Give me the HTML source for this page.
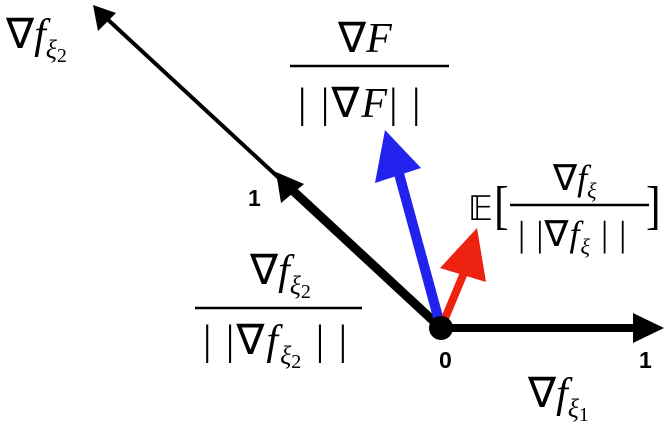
<!DOCTYPE html>
<html><head><style>body{margin:0;background:#fff}svg{display:block}
.s{font-family:"Liberation Serif",serif}
.b{font-family:"Liberation Sans",sans-serif;font-weight:bold;font-size:23px}
</style></head><body>
<svg width="665" height="435" viewBox="0 0 665 435" xmlns="http://www.w3.org/2000/svg">
<line x1="441" y1="328" x2="636" y2="328" stroke="#000" stroke-width="8"/>
<polygon points="664,328 633,313 633,343" fill="#000"/>
<line x1="441" y1="328" x2="104" y2="16" stroke="#000" stroke-width="4"/>
<polygon points="93,5 98,31 116,13" fill="#000"/>
<line x1="441" y1="328" x2="290" y2="188" stroke="#000" stroke-width="9"/>
<polygon points="276,172 281,203 304,184" fill="#000"/>
<line x1="441" y1="328" x2="398" y2="170" stroke="#2222ee" stroke-width="10"/>
<polygon points="385,130 375,183 421,168" fill="#2222ee"/>
<line x1="441" y1="328" x2="466" y2="268" stroke="#ee2211" stroke-width="8"/>
<polygon points="477,228 440,268 486,282" fill="#ee2211"/>
<circle cx="441" cy="328" r="12" fill="#000"/>
<text class="b" x="248" y="206">1</text><text class="b" x="439" y="368">0</text><text class="b" x="639" y="368">1</text>
<g class="s" style="font-size:42px">
<text x="6" y="48">∇<tspan font-style="italic">f</tspan><tspan font-style="italic" font-size="26" dy="10">ξ</tspan><tspan font-size="20" dy="4">2</tspan></text>
<text x="338" y="52">∇<tspan font-style="italic">F</tspan></text>
<line x1="290" y1="66" x2="449" y2="66" stroke="#000" stroke-width="2.5"/>
<text x="298" y="117" letter-spacing="2">| |∇<tspan font-style="italic">F</tspan>| |</text>
<text x="250" y="284">∇<tspan font-style="italic">f</tspan><tspan font-style="italic" font-size="26" dy="10">ξ</tspan><tspan font-size="20" dy="4">2</tspan></text>
<line x1="195" y1="308" x2="362" y2="308" stroke="#000" stroke-width="2.5"/>
<text x="203" y="354" letter-spacing="2">| |∇<tspan font-style="italic">f</tspan><tspan font-style="italic" font-size="26" dy="10" letter-spacing="0">ξ</tspan><tspan font-size="20" dy="4">2</tspan><tspan dy="-14"> | |</tspan></text>
<text x="528" y="407">∇<tspan font-style="italic">f</tspan><tspan font-style="italic" font-size="26" dy="10">ξ</tspan><tspan font-size="20" dy="4">1</tspan></text>
<text x="468" y="220" font-size="34">𝔼</text>
<text x="494" y="226" font-size="44" transform="scale(1,1.2) translate(0,-40)">[</text>
<text x="553" y="190" font-size="36">∇<tspan font-style="italic">f</tspan><tspan font-style="italic" font-size="22" dy="8">ξ</tspan></text>
<line x1="510" y1="205" x2="649" y2="205" stroke="#000" stroke-width="2.5"/>
<text x="518" y="246" font-size="36" letter-spacing="1">| |∇<tspan font-style="italic">f</tspan><tspan font-style="italic" font-size="22" dy="8">ξ</tspan><tspan dy="-8"> | |</tspan></text>
<text x="646" y="226" font-size="44" transform="scale(1,1.2) translate(0,-40)">]</text>
</g>
</svg>
</body></html>
